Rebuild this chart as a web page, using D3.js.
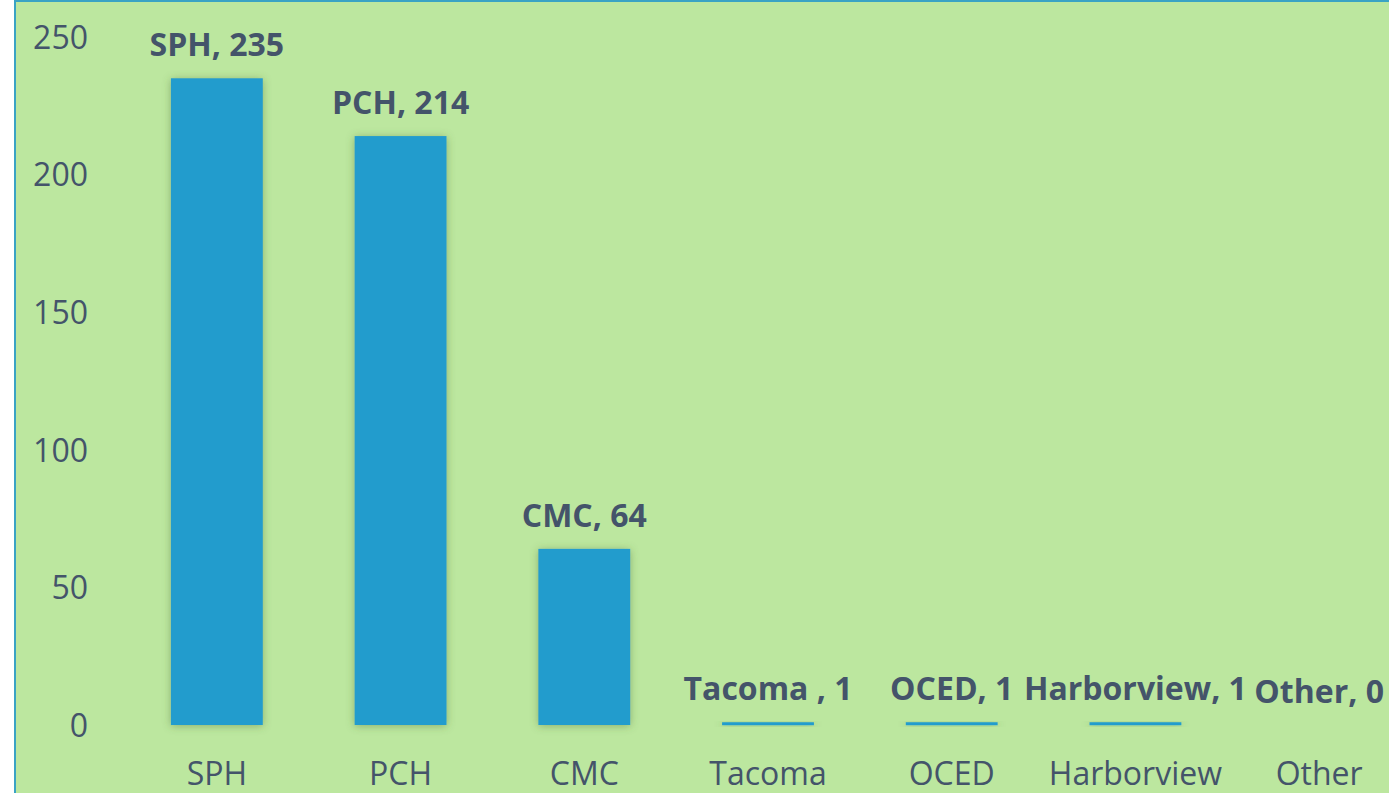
<!DOCTYPE html>
<html>
<head>
<meta charset="utf-8">
<script src="https://cdn.jsdelivr.net/npm/d3@7"></script>
<style>
  html, body { margin: 0; padding: 0; background: #fff; overflow: hidden; }
  svg { display: block; }
</style>
</head>
<body>
<svg id="chart" width="1389" height="793"></svg>
<script>
// chart data
const categories = ["SPH", "PCH", "CMC", "Tacoma", "OCED", "Harborview", "Other"];
const counts = [235, 214, 64, 1, 1, 1, 0];
const dataLabels = ["SPH, 235", "PCH, 214", "CMC, 64", "Tacoma , 1", "OCED, 1", "Harborview, 1", "Other, 0"];
const yTicks = [0, 50, 100, 150, 200, 250];

const width = 1389, height = 793;
const svg = d3.select('#chart');
const textColor = '#44546a';
const font = '"Open Sans", "Noto Sans", sans-serif';

// soft glow round the bars
const defs = svg.append('defs');
const f = defs.append('filter').attr('id', 'glow')
  .attr('x', '-30%').attr('y', '-30%').attr('width', '160%').attr('height', '160%');
f.append('feDropShadow')
  .attr('dx', 0).attr('dy', 1).attr('stdDeviation', 4)
  .attr('flood-color', '#4a6a30').attr('flood-opacity', 0.45);

// plot background with teal frame
svg.append('rect')
  .attr('x', 15).attr('y', 1)
  .attr('width', width).attr('height', height + 10)
  .attr('fill', '#bce79f')
  .attr('stroke', '#3aa3c4').attr('stroke-width', 2);

const x = d3.scaleBand()
  .domain(categories)
  .range([125, 1411])
  .paddingInner(0.5)
  .paddingOuter(0.25);

const y = d3.scaleLinear()
  .domain([0, 250])
  .range([725, 37]);

// y axis labels (no line, no ticks)
const yAxis = d3.axisLeft(y).tickValues(yTicks).tickSize(0).tickPadding(0);
svg.append('g')
  .attr('transform', 'translate(88,0)')
  .call(yAxis)
  .call(g => g.select('.domain').remove())
  .selectAll('text')
    .attr('font-family', font)
    .attr('font-size', 32)
    .attr('fill', textColor)
    .attr('dy', '0.35em');

// x axis labels
const xAxis = d3.axisBottom(x).tickSize(0).tickPadding(0);
svg.append('g')
  .attr('transform', 'translate(0,785)')
  .call(xAxis)
  .call(g => g.select('.domain').remove())
  .selectAll('text')
    .attr('font-family', font)
    .attr('font-size', 32)
    .attr('fill', textColor)
    .attr('dy', 0);

const rows = categories.map((c, i) => ({ cat: c, value: counts[i], label: dataLabels[i] }));

// bars
svg.append('g')
  .selectAll('rect')
  .data(rows.filter(d => d.value > 0))
  .join('rect')
    .attr('x', d => x(d.cat))
    .attr('width', x.bandwidth())
    .attr('y', d => y(d.value))
    .attr('height', d => Math.max(3, y(0) - y(d.value)))
    .attr('fill', '#229ccd')
    .attr('filter', 'url(#glow)');

// value labels
svg.append('g')
  .selectAll('text')
  .data(rows)
  .join('text')
    .attr('x', d => x(d.cat) + x.bandwidth() / 2)
    .attr('y', d => y(d.value) - 22)
    .attr('text-anchor', 'middle')
    .attr('font-family', font)
    .attr('font-weight', 700)
    .attr('font-size', 32)
    .attr('fill', textColor)
    .text(d => d.label);
</script>
</body>
</html>
